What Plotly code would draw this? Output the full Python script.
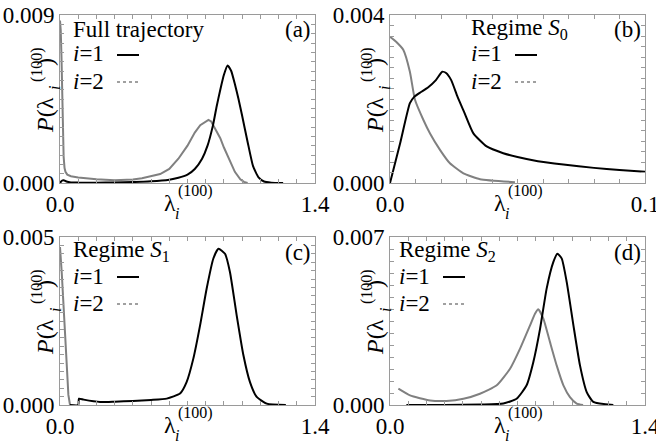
import numpy as np
import plotly.graph_objects as go

# ---------------- data ----------------
# (a) Full trajectory
a_x1 = [0.0, 0.01, 0.02, 0.035, 0.06, 0.1, 0.2, 0.3, 0.4, 0.5, 0.6, 0.65, 0.7, 0.74, 0.78, 0.81,
        0.84, 0.86, 0.88, 0.9, 0.92, 0.94, 0.96, 0.98, 1.0, 1.03, 1.06, 1.09, 1.12, 1.16, 1.225]
a_y1 = [0.0, 0.00012, 0.00015, 0.00008, 0.00003, 0.00002, 0.00002, 0.00003, 0.00005, 0.00009,
        0.00018, 0.00028, 0.00045, 0.00075, 0.0013, 0.0020, 0.0031, 0.0041, 0.0050, 0.0058,
        0.0063, 0.0060, 0.0053, 0.0045, 0.0036, 0.0022, 0.0009, 0.0003, 0.00008, 0.00002, 0.0]
a_x2 = [0.0, 0.004, 0.008, 0.012, 0.016, 0.02, 0.025, 0.03, 0.04, 0.06, 0.1, 0.15, 0.2, 0.3, 0.4,
        0.45, 0.5, 0.55, 0.6, 0.65, 0.7, 0.74, 0.77, 0.8, 0.815, 0.83, 0.86, 0.88, 0.9, 0.93,
        0.96, 0.99, 1.01, 1.03]
a_y2 = [0.0087, 0.0082, 0.0068, 0.0048, 0.0028, 0.0014, 0.0008, 0.0006, 0.00045, 0.00036,
        0.0003, 0.00024, 0.0002, 0.00015, 0.00019, 0.00026, 0.00036, 0.00048, 0.00075, 0.0013,
        0.0020, 0.0027, 0.0031, 0.0033, 0.00338, 0.0033, 0.0028, 0.0024, 0.0019, 0.0012,
        0.0006, 0.0002, 0.00006, 0.0]

# (b) Regime S0
b_x1 = [0.0, 0.004, 0.0078, 0.0095, 0.012, 0.015, 0.018, 0.0205, 0.022, 0.024, 0.0265, 0.029,
        0.0327, 0.0379, 0.0444, 0.05, 0.058, 0.068, 0.08, 0.09, 0.1]
b_y1 = [0.0, 0.00095, 0.0019, 0.00205, 0.00216, 0.00228, 0.00245, 0.00265, 0.00262, 0.00245,
        0.00205, 0.0017, 0.00118, 0.00087, 0.00071, 0.00062, 0.00052, 0.00044, 0.00036,
        0.00031, 0.00027]
b_x2 = [0.0, 0.0026, 0.0052, 0.0078, 0.0098, 0.0131, 0.0157, 0.0196, 0.0235, 0.0288, 0.0353, 0.049]
b_y2 = [0.00348, 0.00335, 0.00317, 0.00265, 0.00198, 0.0015, 0.00118, 0.00079, 0.00047,
        0.00023, 0.00009, 0.00002]

# (c) Regime S1
c_x1 = [0.055, 0.1, 0.104, 0.13, 0.22, 0.3, 0.4, 0.5, 0.586, 0.659, 0.695, 0.732, 0.769, 0.805,
        0.842, 0.87, 0.906, 0.933, 0.97, 1.007, 1.043, 1.08, 1.135, 1.24]
c_y1 = [0.0, 0.0, 0.00019, 0.00016, 0.00009, 0.0001, 0.00012, 0.00015, 0.00019, 0.00034,
        0.00068, 0.00138, 0.00237, 0.00346, 0.00436, 0.00465, 0.0045, 0.00396, 0.00267,
        0.00148, 0.00068, 0.00024, 0.00004, 0.0]
c_x2 = [0.0, 0.005, 0.01, 0.018, 0.025, 0.033, 0.04, 0.046, 0.055]
c_y2 = [0.0047, 0.0044, 0.0039, 0.0031, 0.0023, 0.0015, 0.0008, 0.0003, 0.0]

# (d) Regime S2
d_x1 = [0.09, 0.3, 0.5, 0.622, 0.695, 0.75, 0.787, 0.824, 0.86, 0.897, 0.919, 0.943, 0.97,
        1.007, 1.043, 1.08, 1.116, 1.226]
d_y1 = [0.0, 0.0, 0.00002, 0.00006, 0.00026, 0.00082, 0.00179, 0.00318, 0.00485, 0.00596,
        0.0063, 0.0061, 0.00513, 0.00332, 0.00165, 0.00054, 0.00013, 0.0]
d_x2 = [0.046, 0.11, 0.22, 0.31, 0.403, 0.494, 0.586, 0.659, 0.714, 0.769, 0.796, 0.814,
        0.842, 0.878, 0.915, 0.952, 0.988, 1.025, 1.06]
d_y2 = [0.00068, 0.0004, 0.00019, 0.00017, 0.00026, 0.00047, 0.00082, 0.00151, 0.00235,
        0.00332, 0.0038, 0.00399, 0.0036, 0.00263, 0.00165, 0.00082, 0.00033, 0.00006, 0.0]

titles = ["Full trajectory", "Regime <i>S</i><sub>0</sub>", "Regime <i>S</i><sub>1</sub>",
          "Regime <i>S</i><sub>2</sub>"]
tags = ["(a)", "(b)", "(c)", "(d)"]
series_labels = ["<i>i</i>=1", "<i>i</i>=2"]
x_max = [1.4, 0.1, 1.4, 1.4]
y_max = [0.009, 0.004, 0.005, 0.007]
x_ticklabels = [("0.0", "1.4"), ("0.0", "0.1"), ("0.0", "1.4"), ("0.0", "1.4")]
y_ticklabels = [("0.000", "0.009"), ("0.000", "0.004"), ("0.000", "0.005"), ("0.000", "0.007")]
x_minor = [0.1, 0.01, 0.1, 0.1]
y_minor = [0.0005, 0.00025, 0.00025, 0.0005]

data = [(a_x1, a_y1, a_x2, a_y2), (b_x1, b_y1, b_x2, b_y2),
        (c_x1, c_y1, c_x2, c_y2), (d_x1, d_y1, d_x2, d_y2)]
# gray curves with a near-vertical drop are kept piecewise-linear
gray_shape = ["linear", "spline", "linear", "spline"]

# ---------------- layout geometry (pixels) ----------------
W, H = 656, 444
# panel boxes: left, right, top, bottom
boxes = [(60, 315, 15, 183), (390, 645, 15, 183), (60, 315, 237, 405), (390, 645, 237, 405)]

FONT = "Liberation Serif, Times New Roman, serif"
FS = 23
BLACK = "#000000"
GRAY = "#808080"
FRAME = "#9a9a9a"


def px(x):
    return x / W


def py(y):
    return 1 - y / H


fig = go.Figure()
layout = dict(template="none", width=W, height=H, margin=dict(l=0, r=0, t=0, b=0, pad=0),
              paper_bgcolor="white", plot_bgcolor="white", showlegend=False,
              font=dict(family=FONT, size=FS, color="black"))
annotations = []
shapes = []


def note(text, x, y, size, xanchor="center", angle=0):
    annotations.append(dict(text=text, x=px(x), y=py(y), xref="paper", yref="paper",
                            xanchor=xanchor, yanchor="middle", showarrow=False,
                            textangle=angle, borderpad=0,
                            font=dict(family=FONT, size=size, color="black")))


for k in range(4):
    sfx = "" if k == 0 else str(k + 1)
    L, R, T, B = boxes[k]
    x1, y1, x2, y2 = data[k]
    xa, ya = "x" + sfx, "y" + sfx

    fig.add_trace(go.Scatter(x=x2, y=y2, mode="lines", xaxis=xa, yaxis=ya,
                             line=dict(color=GRAY, width=2, shape=gray_shape[k],
                                       smoothing=0.5)))
    fig.add_trace(go.Scatter(x=x1, y=y1, mode="lines", xaxis=xa, yaxis=ya,
                             line=dict(color=BLACK, width=2, shape="spline", smoothing=0.5)))

    nx = int(round(x_max[k] / x_minor[k]))
    ny = int(round(y_max[k] / y_minor[k]))
    xt = list(np.linspace(0, x_max[k], nx + 1))
    yt = list(np.linspace(0, y_max[k], ny + 1))
    xtt = [x_ticklabels[k][0]] + [""] * (nx - 1) + [x_ticklabels[k][1]]
    ytt = [y_ticklabels[k][0]] + [""] * (ny - 1) + [y_ticklabels[k][1]]

    common = dict(showline=True, linecolor=FRAME, linewidth=1, mirror="allticks",
                  ticks="inside", ticklen=4, tickcolor=FRAME, tickwidth=1,
                  showgrid=False, zeroline=False, automargin=False,
                  ticklabeloverflow="allow",
                  tickfont=dict(family=FONT, size=FS, color="black"))
    layout["xaxis" + sfx] = dict(common, domain=[px(L), px(R)], range=[0, x_max[k]],
                                 anchor=ya, tickmode="array", tickvals=xt, ticktext=xtt)
    layout["yaxis" + sfx] = dict(common, domain=[py(B), py(T)], range=[0, y_max[k]],
                                 anchor=xa, tickmode="array", tickvals=yt, ticktext=ytt)

    # panel title and tag
    tx = L + 12 if k != 3 else L + 8
    if k == 1:
        tx = L + 80
    note(titles[k], tx, T + 14, FS, xanchor="left")
    note(tags[k], R - 3, T + 15, FS, xanchor="right")
    # legend entries
    ly = [T + 39, T + 66]
    for j in range(2):
        note(series_labels[j], tx, ly[j], FS, xanchor="left")
        shapes.append(dict(type="line", xref="paper", yref="paper",
                           x0=px(tx + 45), x1=px(tx + 67), y0=py(ly[j] + 1), y1=py(ly[j] + 1),
                           line=dict(color=BLACK if j == 0 else "#a0a0a0", width=2,
                                     dash="solid" if j == 0 else "dot")))

    # x-axis title: lambda with stacked sub/sup
    note("λ", L + 110, B + 20, 24)
    note("<i>i</i>", L + 117, B + 30, 16)
    note("(100)", L + 135, B + 8, 16)
    # y-axis title (rotated): P(lambda_i^(100))
    note("<i>P</i>(λ", L - 15, T + 100, 24, angle=-90)
    note("<i>i</i>", L - 5, T + 73, 16, angle=-90)
    note("(100)", L - 23, T + 50, 16, angle=-90)
    note(")", L - 15, T + 47, 24, angle=-90)

layout["annotations"] = annotations
layout["shapes"] = shapes
fig.update_layout(**layout)
fig.write_html("out.html")
